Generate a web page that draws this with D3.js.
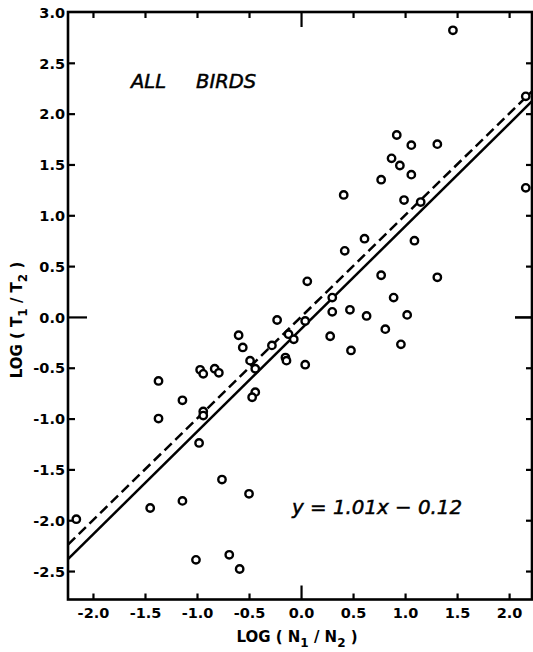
<!DOCTYPE html>
<html>
<head>
<meta charset="utf-8">
<script src="https://cdn.jsdelivr.net/npm/d3@7"></script>
<style>
  html, body { margin: 0; padding: 0; background: #fff; }
  svg { display: block; }
  text { fill: #000; }
</style>
</head>
<body>
<svg id="chart" width="533" height="652"></svg>
<script>
// ---- data ----
const logN = [1.46, 2.16, 0.92, 1.06, 1.31, 0.87, 0.95, 1.06, 0.77, 0.41,
              0.99, 1.15, 2.16, 0.61, 0.42, 1.09, 0.77, 1.31, 0.06, 0.30,
              0.89, 0.30, 0.47, 0.63, 1.02, 0.81, 0.96, 0.28, 0.48, -0.23,
              0.04, -0.12, -0.07, -0.28, -0.15, -0.14, 0.04, -0.60, -0.56, -0.49,
              -0.44, -0.97, -0.94, -0.83, -0.79, -1.37, -1.14, -0.44, -0.47, -0.94,
              -0.94, -1.37, -0.98, -0.76, -0.50, -1.14, -1.45, -2.16, -1.01, -0.69,
              -0.59];
const logT = [2.82, 2.17, 1.79, 1.69, 1.70, 1.56, 1.49, 1.40, 1.35, 1.20,
              1.15, 1.13, 1.27, 0.77, 0.65, 0.75, 0.41, 0.39, 0.35, 0.19,
              0.19, 0.05, 0.07, 0.01, 0.02, -0.12, -0.27, -0.19, -0.33, -0.03,
              -0.04, -0.17, -0.22, -0.28, -0.40, -0.43, -0.47, -0.18, -0.30, -0.43,
              -0.51, -0.52, -0.56, -0.51, -0.55, -0.63, -0.82, -0.74, -0.79, -0.93,
              -0.97, -1.00, -1.24, -1.60, -1.74, -1.81, -1.88, -1.99, -2.39, -2.34,
              -2.48];
const xTicks = [-2.0, -1.5, -1.0, -0.5, 0.0, 0.5, 1.0, 1.5, 2.0];
const xTickLabels = ["-2.0", "-1.5", "-1.0", "-0.5", "0.0", "0.5", "1.0", "1.5", "2.0"];
const yTicks = [-2.5, -2.0, -1.5, -1.0, -0.5, 0.0, 0.5, 1.0, 1.5, 2.0, 2.5, 3.0];
const yTickLabels = ["-2.5", "-2.0", "-1.5", "-1.0", "-0.5", "0.0", "0.5", "1.0", "1.5", "2.0", "2.5", "3.0"];
const fitSlope = 1.01, fitIntercept = -0.12;   // solid regression line
const refSlope = 1.0, refIntercept = 0.0;      // dashed 1:1 line
const xDomain = [-2.24, 2.22];
const yDomain = [-2.78, 3.0];

// ---- layout ----
const svg = d3.select("#chart");
const L = 68, R = 532, T = 12, B = 599.5;
const x = d3.scaleLinear().domain(xDomain).range([L, R]);
const y = d3.scaleLinear().domain(yDomain).range([B, T]);
const font = "'DejaVu Sans', sans-serif";

// frame
svg.append("rect").attr("x", L).attr("y", T).attr("width", R - L).attr("height", B - T)
  .attr("fill", "none").attr("stroke", "#000").attr("stroke-width", 2.6);

function styleAxis(g) {
  g.select(".domain").remove();
  g.selectAll(".tick line").attr("stroke", "#000").attr("stroke-width", 2.2);
  g.selectAll(".tick text").attr("font-family", font).attr("font-weight", "bold")
    .attr("font-size", 14.5).attr("fill", "#000");
}

// bottom axis
const gB = svg.append("g").attr("transform", `translate(0,${B})`)
  .call(d3.axisBottom(x).tickValues(xTicks).tickFormat((d, i) => xTickLabels[i])
    .tickSize(-6).tickPadding(8));
styleAxis(gB);
gB.selectAll(".tick line").filter(d => d === 0).attr("y2", -14);

// top axis (ticks only)
const gT = svg.append("g").attr("transform", `translate(0,${T})`)
  .call(d3.axisTop(x).tickValues(xTicks).tickFormat("").tickSize(-6));
styleAxis(gT);
gT.selectAll(".tick line").filter(d => d === 0).attr("y2", 15);

// left axis
const gL = svg.append("g").attr("transform", `translate(${L},0)`)
  .call(d3.axisLeft(y).tickValues(yTicks).tickFormat((d, i) => yTickLabels[i])
    .tickSize(-7).tickPadding(3));
styleAxis(gL);
gL.selectAll(".tick line").filter(d => d === 0).attr("x2", 19);
gL.selectAll(".tick line").filter(d => d === 3.0).remove();
gL.selectAll(".tick text").attr("dy", "0.36em");

// right axis (ticks only)
const gR = svg.append("g").attr("transform", `translate(${R},0)`)
  .call(d3.axisRight(y).tickValues(yTicks).tickFormat("").tickSize(-6));
styleAxis(gR);
gR.selectAll(".tick line").filter(d => d === 0).attr("x2", -17).attr("stroke-width", 2.6);
gR.selectAll(".tick line").filter(d => d === 3.0).remove();

// lines
const xs = [xDomain[0], xDomain[1]];
const line = d3.line().x(d => x(d[0])).y(d => y(d[1]));
svg.append("path")
  .attr("d", line(xs.map(v => [v, refSlope * v + refIntercept])))
  .attr("fill", "none").attr("stroke", "#000").attr("stroke-width", 2.5)
  .attr("stroke-dasharray", "10,5");
svg.append("path")
  .attr("d", line(xs.map(v => [v, fitSlope * v + fitIntercept])))
  .attr("fill", "none").attr("stroke", "#000").attr("stroke-width", 2.5);

// points
svg.append("g").selectAll("circle").data(logN.map((v, i) => [v, logT[i]]))
  .join("circle")
  .attr("cx", d => x(d[0])).attr("cy", d => y(d[1])).attr("r", 3.7)
  .attr("fill", "#fff").attr("stroke", "#000").attr("stroke-width", 2.4);

// annotations
svg.append("text").attr("x", 131).attr("y", 88)
  .attr("font-family", font).attr("font-style", "italic").attr("font-size", 19.5)
  .attr("stroke", "#000").attr("stroke-width", 0.5)
  .text("ALL");
svg.append("text").attr("x", 196).attr("y", 88)
  .attr("font-family", font).attr("font-style", "italic").attr("font-size", 19.5)
  .attr("stroke", "#000").attr("stroke-width", 0.5)
  .text("BIRDS");
svg.append("text").attr("x", 292).attr("y", 514)
  .attr("font-family", font).attr("font-style", "italic").attr("font-size", 20)
  .attr("stroke", "#000").attr("stroke-width", 0.5)
  .attr("textLength", 170).attr("lengthAdjust", "spacingAndGlyphs")
  .text("y = 1.01x \u2212 0.12");

// axis titles
const xt = svg.append("text").attr("x", 297).attr("y", 642).attr("text-anchor", "middle")
  .attr("font-family", font).attr("font-size", 15).attr("font-weight", 600);
xt.append("tspan").text("LOG  ( N");
xt.append("tspan").attr("font-size", 12).attr("dy", 5).text("1");
xt.append("tspan").attr("dy", -5).text(" / N");
xt.append("tspan").attr("font-size", 12).attr("dy", 5).text("2");
xt.append("tspan").attr("dy", -5).text(" )");

const yt = svg.append("text").attr("transform", "translate(22,320) rotate(-90)")
  .attr("text-anchor", "middle")
  .attr("font-family", font).attr("font-size", 15).attr("font-weight", 600);
yt.append("tspan").text("LOG  ( T");
yt.append("tspan").attr("font-size", 12).attr("dy", 5).text("1");
yt.append("tspan").attr("dy", -5).text(" / T");
yt.append("tspan").attr("font-size", 12).attr("dy", 5).text("2");
yt.append("tspan").attr("dy", -5).text(" )");
</script>
</body>
</html>
